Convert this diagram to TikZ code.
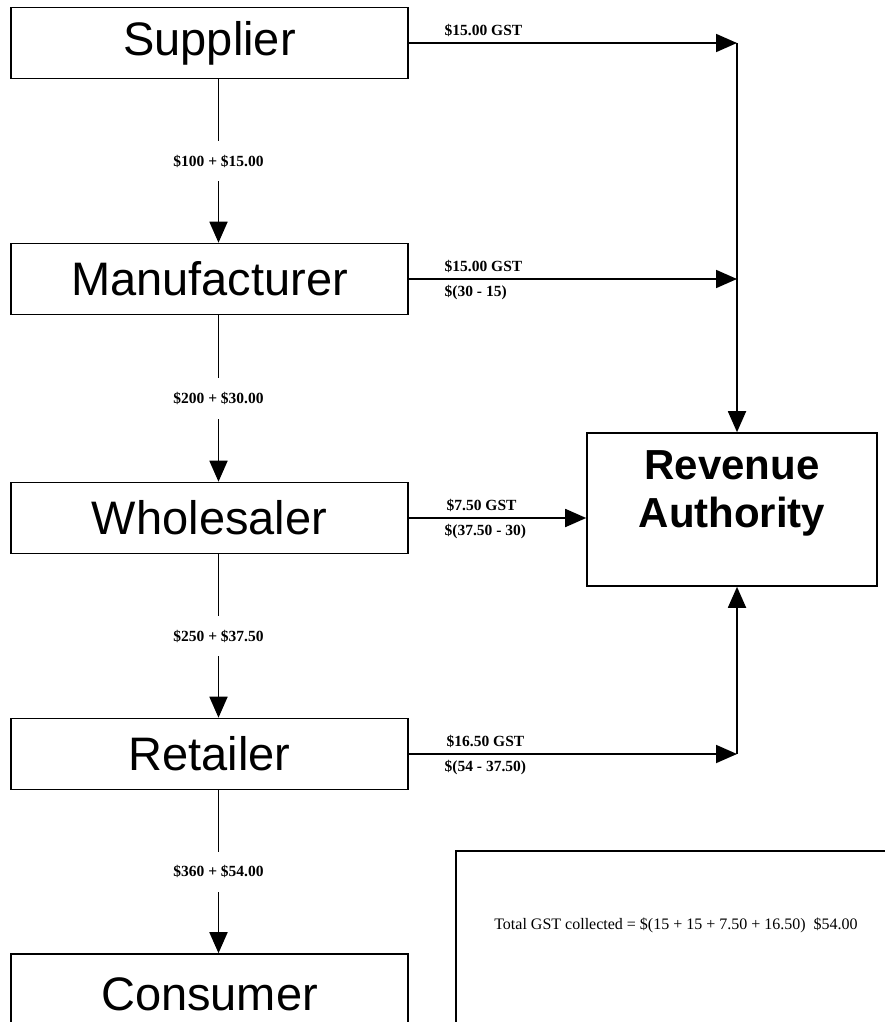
\documentclass[tikz,border=0pt]{standalone}
\usepackage{fontspec}
\setmainfont{Liberation Serif}
\newfontfamily\boxfont{Liberation Sans}
\usetikzlibrary{arrows.meta}

\tikzset{
  party/.style={draw,line width=1.6pt,minimum width=397pt,minimum height=71pt,
    inner sep=0pt,font=\boxfont\fontsize{47}{56}\selectfont},
  flow/.style={line width=1.8pt,-{Triangle[length=21pt,width=18pt]}},
  amount/.style={font=\fontsize{15.5}{17}\selectfont\bfseries,inner sep=5pt},
  gapped/.style={amount,fill=white,inner ysep=14pt},
}

\begin{document}
\begin{tikzpicture}[x=1pt,y=-1pt]
\useasboundingbox (0,0) rectangle (885,1022);

% the chain of traders
\node [party] (supplier)   at (209.5, 43) {Supplier};
\node [party] (manuf)      at (209.5,279) {Manufacturer};
\node [party] (wholesaler) at (209.5,518) {Wholesaler};
\node [party] (retailer)   at (209.5,754) {Retailer};
\node [party,minimum height=80pt] (consumer) at (209.5,994) {Consumer};

\node [draw,line width=1.6pt,minimum width=290pt,minimum height=153pt,
       align=center,text depth=40pt,
       font=\boxfont\bfseries\fontsize{42}{48}\selectfont]
      (revenue) at (732,509.5) {Revenue\\Authority};

\node [draw,line width=1.6pt,anchor=north west,minimum width=442pt,
       minimum height=200pt] (totalbox) at (455,850) {};
\node [font=\fontsize{16}{18}\selectfont] (total) at (676,925)
      {Total GST collected = \$(15 + 15 + 7.50 + 16.50)\ \ \$54.00};

% sales down the chain
\draw [flow] ([xshift=9pt]supplier.south) --
    node[gapped] {\$100 + \$15.00} ([xshift=9pt]manuf.north);
\draw [flow] ([xshift=9pt]manuf.south) --
    node[gapped] {\$200 + \$30.00} ([xshift=9pt]wholesaler.north);
\draw [flow] ([xshift=9pt]wholesaler.south) --
    node[gapped] {\$250 + \$37.50} ([xshift=9pt]retailer.north);
\draw [flow] ([xshift=9pt]retailer.south) --
    node[gapped] {\$360 + \$54.00} ([xshift=9pt]consumer.north);

% GST paid to the revenue authority
\coordinate (tapA) at (737, 43);
\coordinate (tapB) at (737,279);
\coordinate (tapD) at (737,754);

\draw [flow] (supplier.east) --
    node[amount,pos=0,anchor=south west,xshift=30pt] {\$15.00 GST}
    (tapA);
\draw [flow] (manuf.east) --
    node[amount,pos=0,anchor=south west,xshift=30pt] {\$15.00 GST}
    node[amount,pos=0,anchor=north west,xshift=30pt] {\$(30 - 15)}
    (tapB);
\draw [flow] (wholesaler.east) --
    node[amount,pos=0,anchor=south west,xshift=32pt] {\$7.50 GST}
    node[amount,pos=0,anchor=north west,xshift=30pt] {\$(37.50 - 30)}
    (wholesaler.east -| revenue.west);
\draw [flow] (retailer.east) --
    node[amount,pos=0,anchor=south west,xshift=32pt] {\$16.50 GST}
    node[amount,pos=0,anchor=north west,xshift=30pt] {\$(54 - 37.50)}
    (tapD);

\draw [flow] (tapA) -- (tapA |- revenue.north);
\draw [flow] (tapD) -- (tapD |- revenue.south);
\end{tikzpicture}
\end{document}
